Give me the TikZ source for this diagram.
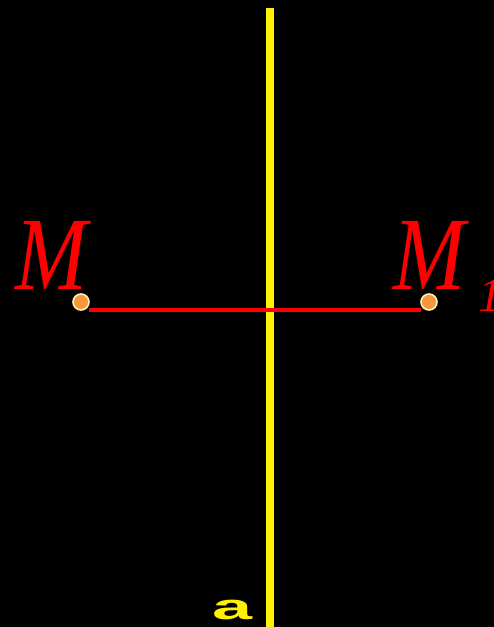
\documentclass[tikz,border=0pt]{standalone}
\usepackage{fontspec}
\setmainfont{Liberation Serif}
\newfontfamily\asans{Liberation Sans}
\definecolor{dotfill}{HTML}{F7963C}
\definecolor{dotline}{HTML}{FFF2B8}
\tikzset{
  axisline/.style={yellow, line width=8pt},
  segline/.style={red, line width=4pt},
  ptdot/.style={circle, fill=dotfill, draw=dotline, line width=1.6pt, minimum size=16pt, inner sep=0pt},
  mlabel/.style={text=red, font=\fontsize{104}{104}\selectfont\itshape, inner sep=0pt, anchor=base, xscale=0.83},
  sublabel/.style={text=red, font=\fontsize{48}{48}\selectfont\itshape, inner sep=0pt, anchor=base west},
  alabel/.style={text=yellow, font=\asans\bfseries\fontsize{36}{36}\selectfont, inner sep=0pt, anchor=base, xscale=2}
}
\begin{document}
\begin{tikzpicture}[x=1pt,y=1pt]
\fill[black] (0,0) rectangle (494,627);
\useasboundingbox (0,0) rectangle (494,627);
\coordinate (top) at (270,619);
\coordinate (bot) at (270,0);
\draw[axisline] (top) -- (bot);
\node[ptdot] (m) at (81,325) {};
\node[ptdot] (m1) at (429,325) {};
\coordinate (sl) at (89,317);
\coordinate (sr) at (421,317);
\draw[segline] (sl) -- (sr);
\node[mlabel] (ml) at (51,337) {M};
\node[mlabel] (m1l) at (429,337) {M};
\begin{scope}
\clip (0,0) rectangle (494,627);
\node[sublabel] (sub) at (478,315) {1};
\node[alabel] (alab) at (233,7) {a};
\end{scope}
\end{tikzpicture}
\end{document}
